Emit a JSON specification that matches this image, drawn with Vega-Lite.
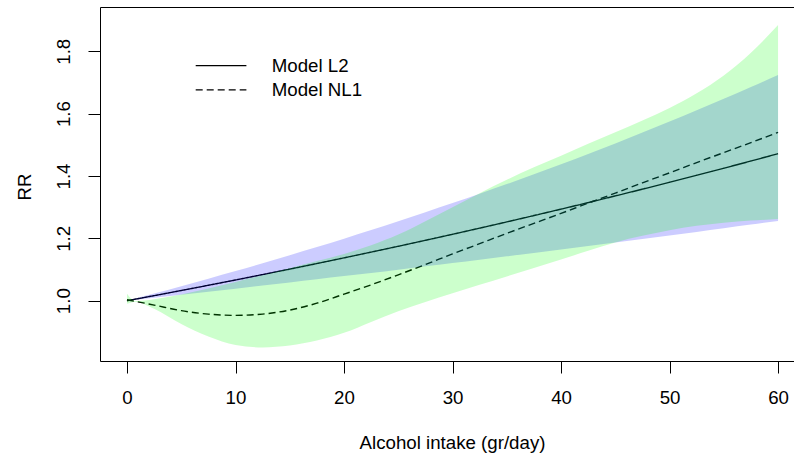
{
  "$schema": "https://vega.github.io/schema/vega-lite/v6.json",
  "width": 694,
  "height": 354,
  "autosize": "none",
  "padding": {"left": 100, "top": 7, "right": 0, "bottom": 95},
  "background": "white",
  "config": {
    "view": {"stroke": null},
    "axis": {
      "grid": false,
      "domainColor": "black",
      "domainWidth": 1,
      "tickColor": "black",
      "tickWidth": 1,
      "tickSize": 12,
      "labelFont": "Liberation Sans",
      "labelFontSize": 18.7,
      "labelColor": "black",
      "titleFont": "Liberation Sans",
      "titleFontSize": 18.7,
      "titleFontWeight": "normal",
      "titleColor": "black",
      "labelFlush": false,
      "labelOverlap": false
    }
  },
  "datasets": {
    "curves": [
      {"model": "Model L2", "x": 0, "rr": 1.0, "lo": 1.0, "hi": 1.0},
      {"model": "Model L2", "x": 2.5, "rr": 1.0162, "lo": 1.0095, "hi": 1.0230},
      {"model": "Model L2", "x": 5, "rr": 1.0327, "lo": 1.0192, "hi": 1.0464},
      {"model": "Model L2", "x": 7.5, "rr": 1.0495, "lo": 1.0289, "hi": 1.0705},
      {"model": "Model L2", "x": 10, "rr": 1.0665, "lo": 1.0387, "hi": 1.0950},
      {"model": "Model L2", "x": 12.5, "rr": 1.0838, "lo": 1.0486, "hi": 1.1202},
      {"model": "Model L2", "x": 15, "rr": 1.1014, "lo": 1.0586, "hi": 1.1459},
      {"model": "Model L2", "x": 17.5, "rr": 1.1192, "lo": 1.0687, "hi": 1.1722},
      {"model": "Model L2", "x": 20, "rr": 1.1374, "lo": 1.0789, "hi": 1.1991},
      {"model": "Model L2", "x": 22.5, "rr": 1.1559, "lo": 1.0892, "hi": 1.2266},
      {"model": "Model L2", "x": 25, "rr": 1.1746, "lo": 1.0996, "hi": 1.2548},
      {"model": "Model L2", "x": 27.5, "rr": 1.1937, "lo": 1.1101, "hi": 1.2836},
      {"model": "Model L2", "x": 30, "rr": 1.2130, "lo": 1.1207, "hi": 1.3130},
      {"model": "Model L2", "x": 32.5, "rr": 1.2327, "lo": 1.1314, "hi": 1.3432},
      {"model": "Model L2", "x": 35, "rr": 1.2527, "lo": 1.1422, "hi": 1.3740},
      {"model": "Model L2", "x": 37.5, "rr": 1.2731, "lo": 1.1531, "hi": 1.4055},
      {"model": "Model L2", "x": 40, "rr": 1.2937, "lo": 1.1641, "hi": 1.4378},
      {"model": "Model L2", "x": 42.5, "rr": 1.3147, "lo": 1.1752, "hi": 1.4708},
      {"model": "Model L2", "x": 45, "rr": 1.3361, "lo": 1.1864, "hi": 1.5045},
      {"model": "Model L2", "x": 47.5, "rr": 1.3577, "lo": 1.1977, "hi": 1.5391},
      {"model": "Model L2", "x": 50, "rr": 1.3798, "lo": 1.2091, "hi": 1.5744},
      {"model": "Model L2", "x": 52.5, "rr": 1.4022, "lo": 1.2207, "hi": 1.6105},
      {"model": "Model L2", "x": 55, "rr": 1.4249, "lo": 1.2323, "hi": 1.6475},
      {"model": "Model L2", "x": 57.5, "rr": 1.4480, "lo": 1.2441, "hi": 1.6853},
      {"model": "Model L2", "x": 60, "rr": 1.4715, "lo": 1.2559, "hi": 1.7240},
      {"model": "Model NL1", "x": 0, "rr": 1.003, "lo": 0.990, "hi": 1.022},
      {"model": "Model NL1", "x": 0.75, "rr": 0.998, "lo": 0.997, "hi": 0.999},
      {"model": "Model NL1", "x": 2.5, "rr": 0.986, "lo": 0.974, "hi": 1.005},
      {"model": "Model NL1", "x": 5, "rr": 0.968, "lo": 0.925, "hi": 1.020},
      {"model": "Model NL1", "x": 7.5, "rr": 0.957, "lo": 0.885, "hi": 1.039},
      {"model": "Model NL1", "x": 10, "rr": 0.953, "lo": 0.858, "hi": 1.060},
      {"model": "Model NL1", "x": 12.5, "rr": 0.957, "lo": 0.850, "hi": 1.082},
      {"model": "Model NL1", "x": 15, "rr": 0.970, "lo": 0.856, "hi": 1.104},
      {"model": "Model NL1", "x": 17.5, "rr": 0.992, "lo": 0.872, "hi": 1.127},
      {"model": "Model NL1", "x": 20, "rr": 1.021, "lo": 0.897, "hi": 1.150},
      {"model": "Model NL1", "x": 22.5, "rr": 1.051, "lo": 0.932, "hi": 1.178},
      {"model": "Model NL1", "x": 25, "rr": 1.083, "lo": 0.966, "hi": 1.212},
      {"model": "Model NL1", "x": 27.5, "rr": 1.116, "lo": 0.996, "hi": 1.255},
      {"model": "Model NL1", "x": 30, "rr": 1.150, "lo": 1.024, "hi": 1.300},
      {"model": "Model NL1", "x": 32.5, "rr": 1.183, "lo": 1.051, "hi": 1.345},
      {"model": "Model NL1", "x": 35, "rr": 1.216, "lo": 1.078, "hi": 1.388},
      {"model": "Model NL1", "x": 37.5, "rr": 1.248, "lo": 1.105, "hi": 1.428},
      {"model": "Model NL1", "x": 40, "rr": 1.280, "lo": 1.132, "hi": 1.465},
      {"model": "Model NL1", "x": 42.5, "rr": 1.313, "lo": 1.160, "hi": 1.503},
      {"model": "Model NL1", "x": 45, "rr": 1.345, "lo": 1.187, "hi": 1.540},
      {"model": "Model NL1", "x": 47.5, "rr": 1.378, "lo": 1.208, "hi": 1.578},
      {"model": "Model NL1", "x": 50, "rr": 1.410, "lo": 1.226, "hi": 1.618},
      {"model": "Model NL1", "x": 52.5, "rr": 1.443, "lo": 1.240, "hi": 1.665},
      {"model": "Model NL1", "x": 55, "rr": 1.475, "lo": 1.250, "hi": 1.722},
      {"model": "Model NL1", "x": 57.5, "rr": 1.507, "lo": 1.257, "hi": 1.795},
      {"model": "Model NL1", "x": 60, "rr": 1.540, "lo": 1.262, "hi": 1.884}
    ]
  },
  "data": {"name": "curves"},
  "layer": [
    {
      "mark": {"type": "line", "color": "black", "strokeWidth": 1.4, "interpolate": "monotone"},
      "encoding": {
        "x": {
          "field": "x", "type": "quantitative",
          "scale": {"domain": [-2.488, 61.47], "nice": false, "zero": false},
          "axis": {
            "orient": "bottom",
            "values": [0, 10, 20, 30, 40, 50, 60],
            "labelBaseline": "alphabetic",
            "labelPadding": 30,
            "title": "Alcohol intake (gr/day)",
            "titleX": 352,
            "titleY": 87.5,
            "titleAlign": "center",
            "titleBaseline": "alphabetic"
          }
        },
        "y": {
          "field": "rr", "type": "quantitative",
          "scale": {"domain": [0.8066, 1.942], "nice": false, "zero": false},
          "axis": {
            "values": [1.0, 1.2, 1.4, 1.6, 1.8],
            "format": ".1f",
            "labelAngle": 270,
            "labelAlign": "center",
            "labelBaseline": "alphabetic",
            "labelPadding": 18.5,
            "title": "RR",
            "titleAngle": 270,
            "titleX": -70,
            "titleY": 179.5,
            "titleAlign": "center",
            "titleBaseline": "alphabetic"
          }
        },
        "strokeDash": {
          "field": "model", "type": "nominal",
          "scale": {"domain": ["Model L2", "Model NL1"], "range": [[1, 0], [7, 4]]},
          "legend": {
            "orient": "none",
            "legendX": 111.7,
            "legendY": 49.2,
            "title": null,
            "padding": 0,
            "symbolType": "M-5,0H5",
            "symbolSize": 102.8,
            "symbolStrokeWidth": 1.2,
            "symbolStrokeColor": "black",
            "symbolFillColor": "transparent",
            "labelFont": "Liberation Sans",
            "labelFontSize": 18.7,
            "labelColor": "black",
            "labelOffset": 41.3,
            "rowPadding": 4.3
          }
        }
      }
    },
    {
      "transform": [{"filter": "datum.model == 'Model L2'"}],
      "mark": {"type": "area", "color": "#0000ff", "opacity": 0.2, "interpolate": "monotone"},
      "encoding": {
        "x": {"field": "x", "type": "quantitative", "axis": null},
        "y": {"field": "lo", "type": "quantitative"},
        "y2": {"field": "hi"}
      }
    },
    {
      "transform": [{"filter": "datum.model == 'Model NL1'"}],
      "mark": {"type": "area", "color": "#00ff00", "opacity": 0.2, "interpolate": "monotone"},
      "encoding": {
        "x": {
          "field": "x", "type": "quantitative",
          "axis": {"orient": "top", "labels": false, "ticks": false, "title": null, "domain": true}
        },
        "y": {"field": "lo", "type": "quantitative"},
        "y2": {"field": "hi"}
      }
    }
  ],
  "resolve": {"axis": {"x": "independent"}}
}
